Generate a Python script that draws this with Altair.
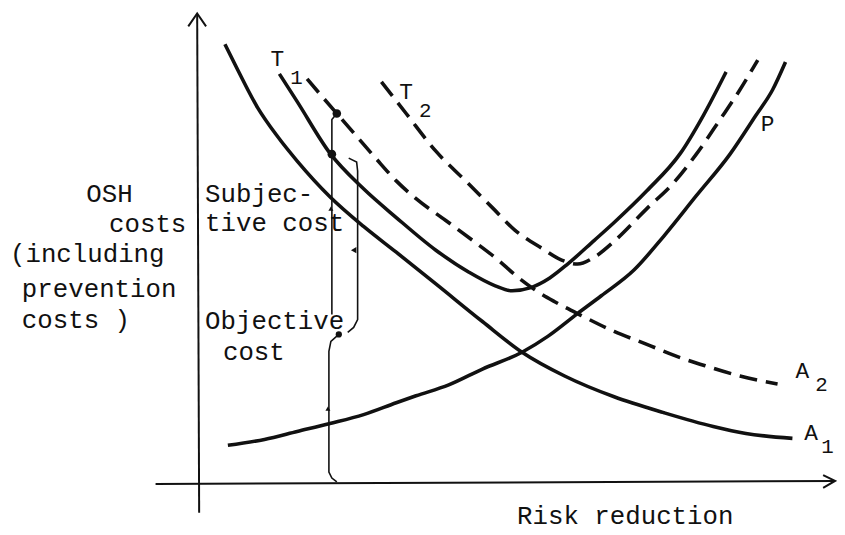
import altair as alt
import pandas as pd

# ---- data (units: x = risk reduction, y = OSH costs; origin at axes crossing) ----
A1_x = [2.7, 4.0, 6.0, 8.0, 10.0, 13.3, 16.7, 20.0, 24.0, 28.7, 32.7, 37.0, 42.0, 47.0, 52.0, 55.3, 60.0]
A1_y = [44.3, 41.7, 37.9, 35.0, 32.5, 28.9, 25.9, 23.3, 20.1, 16.3, 13.2, 10.8, 8.7, 7.1, 5.7, 5.0, 4.5]

T1_x = [8.2, 10.0, 13.3, 16.7, 20.0, 24.0, 27.3, 30.0, 31.7, 33.5, 35.5, 37.3, 40.0, 42.0, 45.3, 48.7, 51.0, 53.3]
T1_y = [41.3, 38.5, 33.3, 29.7, 26.8, 23.5, 21.3, 19.9, 19.4, 19.7, 20.7, 22.1, 24.5, 26.3, 29.5, 33.3, 37.1, 41.5]

P_x = [3.0, 6.7, 10.0, 13.3, 16.7, 20.0, 22.0, 25.3, 28.7, 32.7, 35.3, 38.3, 40.7, 44.0, 47.0, 50.3, 53.7, 56.3, 58.0, 59.3]
P_y = [3.8, 4.4, 5.2, 6.0, 6.9, 8.1, 8.8, 9.9, 11.5, 13.2, 14.8, 17.1, 18.9, 21.5, 24.9, 29.0, 33.2, 37.1, 39.7, 42.5]

A2_x = [11.0, 12.7, 14.0, 16.0, 18.0, 20.0, 22.0, 25.0, 27.7, 30.3, 32.0, 34.3, 36.0, 38.7, 42.0, 45.3, 48.0, 51.3, 54.7, 58.5]
A2_y = [40.8, 38.8, 37.3, 35.0, 32.7, 30.5, 28.7, 26.5, 24.5, 22.5, 21.0, 19.3, 18.3, 16.9, 15.3, 14.0, 12.9, 11.8, 10.8, 10.0]

T2_x = [18.5, 21.0, 24.0, 27.3, 29.7, 32.0, 34.7, 36.7, 38.3, 40.0, 42.0, 45.3, 48.0, 50.3, 52.7, 54.7, 56.5]
T2_y = [40.5, 37.3, 33.5, 30.2, 27.8, 25.5, 23.7, 22.5, 22.1, 22.8, 24.4, 27.7, 30.3, 33.2, 36.7, 39.7, 42.7]

# axes (drawn by hand, with arrow heads)
yaxis_x = [-0.1, 0.1]
yaxis_y = [47.3, -3.0]
yarrow_x = [-1.0, -0.1, 0.8]
yarrow_y = [46.1, 47.4, 46.1]
xaxis_x = [-4.3, 64.3]
xaxis_y = [-0.1, 0.2]
xarrow_x = [63.1, 64.3, 63.1]
xarrow_y = [0.8, 0.2, -0.5]

# cost brackets
main_x = [14.0, 13.5, 13.5]
main_y = [37.3, 36.7, 17.0]
lower_x = [14.2, 13.4, 13.2, 13.2, 13.5, 14.0]
lower_y = [15.0, 14.3, 13.3, 1.1, 0.5, 0.1]
brk_x = [15.2, 16.0, 16.1, 16.1, 15.7, 15.1]
brk_y = [32.8, 32.4, 31.5, 16.5, 15.7, 15.2]

dot_x = [14.0, 13.5]
dot_y = [37.3, 33.2]
sdot_x = [14.2]
sdot_y = [15.0]
up_x = [13.4, 13.1]
up_y = [27.7, 7.5]
left_x = [15.7]
left_y = [23.5]

# text
lab_text = ["OSH", "costs", "(including", "prevention", "costs )",
            "Subjec-", "tive cost", "Objective", "cost", "Risk reduction"]
lab_x = [-11.3, -9.0, -19.0, -17.8, -17.8, 0.7, 0.7, 0.7, 2.5, 32.2]
lab_y = [29.2, 26.1, 23.1, 19.6, 16.4, 29.2, 26.2, 16.3, 13.2, -3.3]

cl_text = ["T", "T", "P", "A", "A"]
cl_x = [7.3, 20.3, 56.8, 60.3, 61.2]
cl_y = [42.8, 39.5, 36.2, 11.3, 5.0]

sub_text = ["1", "2", "2", "1"]
sub_x = [9.3, 22.3, 62.3, 62.9]
sub_y = [40.9, 37.5, 9.9, 3.6]


def path(name, xs, ys):
    return pd.DataFrame({"name": name, "x": xs, "y": ys, "i": list(range(len(xs)))})


xs = alt.Scale(domain=[-19.2, 64.5], nice=False, zero=False)
ys = alt.Scale(domain=[-5.0, 47.7], nice=False, zero=False)
X = alt.X("x:Q", scale=xs, axis=None)
Y = alt.Y("y:Q", scale=ys, axis=None)
INK = "#111111"
FONT = "Liberation Mono"

solid = pd.concat([path("A1", A1_x, A1_y), path("T1", T1_x, T1_y), path("P", P_x, P_y)])
dashed = pd.concat([path("A2", A2_x, A2_y), path("T2", T2_x, T2_y)])
axes = pd.concat([path("ya", yaxis_x, yaxis_y), path("yh", yarrow_x, yarrow_y),
                  path("xa", xaxis_x, xaxis_y), path("xh", xarrow_x, xarrow_y)])
ann = pd.concat([path("m", main_x, main_y), path("l", lower_x, lower_y), path("b", brk_x, brk_y)])

solid_l = alt.Chart(solid).mark_line(color=INK, strokeWidth=3.6, interpolate="monotone").encode(
    x=X, y=Y, detail="name:N", order="i:Q")
dashed_l = alt.Chart(dashed).mark_line(color=INK, strokeWidth=3.6, interpolate="monotone",
                                        strokeDash=[18, 9]).encode(
    x=X, y=Y, detail="name:N", order="i:Q")
axes_l = alt.Chart(axes).mark_line(color=INK, strokeWidth=2).encode(
    x=X, y=Y, detail="name:N", order="i:Q")
ann_l = alt.Chart(ann).mark_line(color=INK, strokeWidth=1.6).encode(
    x=X, y=Y, detail="name:N", order="i:Q")

dots = alt.Chart(pd.DataFrame({"x": dot_x, "y": dot_y})).mark_circle(
    color=INK, size=75, opacity=1).encode(x=X, y=Y)
sdots = alt.Chart(pd.DataFrame({"x": sdot_x, "y": sdot_y})).mark_circle(
    color=INK, size=40, opacity=1).encode(x=X, y=Y)
ups = alt.Chart(pd.DataFrame({"x": up_x, "y": up_y})).mark_point(
    shape="triangle-up", filled=True, color=INK, size=25, opacity=1).encode(x=X, y=Y)
lefts = alt.Chart(pd.DataFrame({"x": left_x, "y": left_y})).mark_point(
    shape="triangle-left", filled=True, color=INK, size=40, opacity=1).encode(x=X, y=Y)

labels = alt.Chart(pd.DataFrame({"x": lab_x, "y": lab_y, "t": lab_text})).mark_text(
    font=FONT, fontSize=26, align="left", baseline="middle", color=INK).encode(x=X, y=Y, text="t:N")
clabels = alt.Chart(pd.DataFrame({"x": cl_x, "y": cl_y, "t": cl_text})).mark_text(
    font=FONT, fontSize=23, align="left", baseline="middle", color=INK).encode(x=X, y=Y, text="t:N")
slabels = alt.Chart(pd.DataFrame({"x": sub_x, "y": sub_y, "t": sub_text})).mark_text(
    font=FONT, fontSize=21, align="left", baseline="middle", color=INK).encode(x=X, y=Y, text="t:N")

chart = alt.layer(axes_l, ann_l, solid_l, dashed_l, dots, sdots, ups, lefts,
                  labels, clabels, slabels).properties(
    width=837, height=527, autosize=alt.AutoSizeParams(type="none"), padding=0,
    background="white").configure_view(stroke=None)

chart.save("out.html", embed_options={"renderer": "svg", "actions": False})
